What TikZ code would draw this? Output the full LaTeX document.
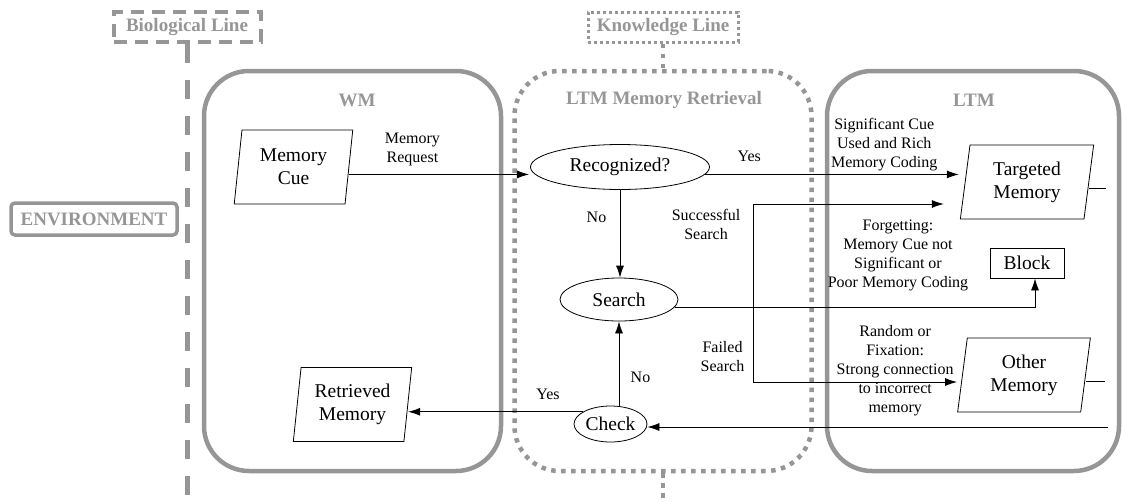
\documentclass[tikz,border=0pt]{standalone}
\usepackage{fontspec}
\setmainfont{LiberationSerif}[Extension=.ttf,UprightFont=*-Regular,BoldFont=*-Bold,ItalicFont=*-Italic,BoldItalicFont=*-BoldItalic]
\usetikzlibrary{positioning,arrows.meta,shapes.geometric}
\definecolor{linegray}{RGB}{150,150,150}
\newcommand{\nodefont}{\fontsize{19.5}{23}\selectfont}
\newcommand{\labelfont}{\fontsize{16}{19}\selectfont}
\newcommand{\titlefont}{\bfseries\fontsize{19}{22}\selectfont}

\begin{document}
\begin{tikzpicture}[x=1pt,y=-1pt]
 \tikzset{arrow/.style={line width=0.8pt,-{Latex[length=12pt,width=8pt]}}}
 \tikzset{link/.style={line width=0.8pt}}
 \tikzset{proc/.style={ellipse,draw,line width=0.8pt,inner sep=0pt,font=\nodefont}}
 \tikzset{io/.style={trapezium,trapezium left angle=82,trapezium right angle=98,trapezium stretches=true,draw,line width=0.8pt,inner sep=0pt,minimum width=119pt,minimum height=74pt,align=center,font=\nodefont}}
 \tikzset{lbl/.style={align=center,font=\labelfont}}
 \tikzset{title/.style={text=linegray,font=\titlefont}}
 \tikzset{region/.style={draw=linegray,line width=4.5pt,rounded corners=45pt,minimum height=400pt}}
 \tikzset{dotline/.style={draw=linegray,line width=4.5pt,dash pattern=on 4.5pt off 5.5pt}}
 \tikzset{dashline/.style={draw=linegray,line width=5pt,dash pattern=on 19pt off 17pt}}
 \useasboundingbox (0,0) rectangle (1122,501);

 % the three regions
 \node[region,minimum width=297pt] (wm) at (352.5,271) {};
 \node[region,dotline,rounded corners=45pt,minimum width=297pt] (ltmr) at (663,271) {};
 \node[region,minimum width=292pt] (ltm) at (973,271) {};
 \node[title] (wmtitle) at (357,100) {WM};
 \node[title] (ltmrtitle) at (664,100) {LTM Memory Retrieval};
 \node[title] (ltmtitle) at (974,100) {LTM};

 % lines and tags
 \node[title,draw=linegray,line width=4pt,dash pattern=on 13pt off 8pt,inner sep=0pt,minimum width=147pt,minimum height=30pt] (bio) at (187,27) {Biological Line};
 \node[title,draw=linegray,line width=3pt,dash pattern=on 3pt off 3pt,inner sep=0pt,minimum width=150pt,minimum height=30pt] (know) at (663,27) {Knowledge Line};
 \node[title,draw=linegray,line width=3.5pt,rounded corners=4pt,inner sep=0pt,minimum width=166pt,minimum height=32pt] (env) at (94,219) {ENVIRONMENT};
 \coordinate (bioend) at (187,501);
 \coordinate (knowend) at (663,501);
 \draw[dashline] (bio.south) -- (bioend);
 \draw[dotline] (know.south) -- (ltmr.north);
 \draw[dotline] (ltmr.south) -- (knowend);

 % nodes
 \node[io] (cue) at (293.5,167) {Memory\\Cue};
 \node[io] (ret) at (352.5,404.5) {Retrieved\\Memory};
 \node[proc,minimum width=179pt,minimum height=45pt] (rec) at (620,167) {Recognized?};
 \node[proc,minimum width=118pt,minimum height=43pt] (search) at (619,299.5) {Search};
 \node[proc,minimum width=73pt,minimum height=36pt] (check) at (610.5,424) {Check};
 \node[io,minimum width=134pt] (tgt) at (1027,182) {Targeted\\Memory};
 \node[io,minimum width=133pt] (oth) at (1024,375) {Other\\Memory};
 \node[draw,line width=0.8pt,inner sep=0pt,minimum width=74pt,minimum height=30pt,font=\nodefont] (blk) at (1027,263) {Block};
 \coordinate (fork) at (753,0);
 \coordinate (tgtend) at (1106,188);
 \coordinate (othend) at (1105,381);
 \coordinate (retin) at (1108,427);

 % connectors
 \draw[arrow,shorten >=6pt] (cue.east |- rec.185) -- node[lbl,above=5pt,pos=.34] {Memory\\Request} (rec.185);
 \draw[arrow,shorten >=6pt] (rec.355) -- node[lbl,above=9pt,pos=.17] {Yes} node[lbl,above,pos=.69] {Significant Cue\\Used and Rich\\Memory Coding} (tgt.west |- rec.355);
 \draw[arrow] (rec.south) -- node[lbl,left=10pt,pos=.31] {No} (rec.south |- search.north);
 \draw[arrow] (search.352) -| node[lbl,above=13pt,pos=.31] {Forgetting:\\Memory Cue not\\Significant or\\Poor Memory Coding} ([xshift=8pt]blk.south);
 \draw[arrow,shorten >=21pt] (fork |- search.352) |- node[lbl,left=9pt,pos=.4] {Successful\\Search} ([yshift=-22pt]tgt.west);
 \draw[arrow,shorten >=5pt] (fork |- search.352) |- node[lbl,left=5pt,pos=.33] {Failed\\Search} node[lbl,yshift=11pt,pos=.84] {Random or\\Fixation:\\Strong connection\\to incorrect\\memory} ([yshift=-7pt]oth.west);
 \draw[arrow] (search.south |- check.north) -- node[lbl,right=8pt,pos=.33] {No} (search.south);
 \draw[arrow] (check.156) -- node[lbl,above=8pt,pos=.2] {Yes} (ret.east |- check.156);
 \draw[arrow] (retin) -- (retin -| check.east);
 \draw[link] (tgt.east |- tgtend) -- (tgtend);
 \draw[link] (oth.east |- othend) -- (othend);
\end{tikzpicture}
\end{document}
